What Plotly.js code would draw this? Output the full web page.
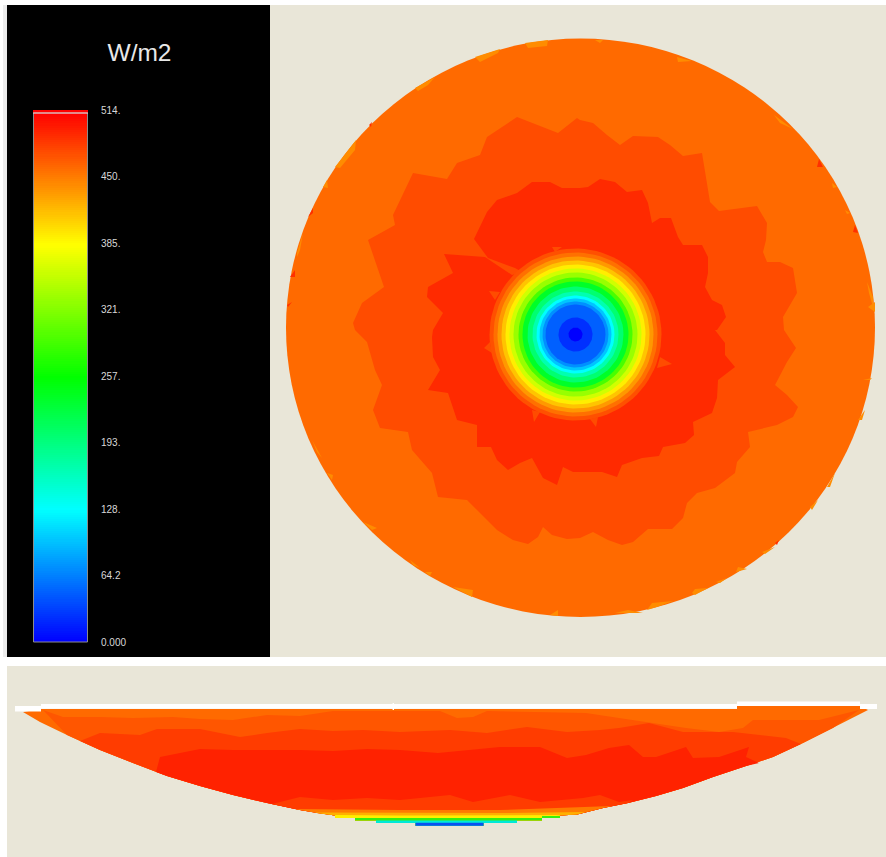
<!DOCTYPE html>
<html><head><meta charset="utf-8">
<script src="https://cdn.plot.ly/plotly-3.0.1.min.js"></script>
<style>html,body{margin:0;padding:0;background:#fff}#c{width:886px;height:857px}</style></head>
<body><div id="c"></div>
<script>
// ---- colour-bar
const unitTitle = 'W/m2';
const barTickVals = [514, 449.75, 385.5, 321.25, 257, 192.75, 128.5, 64.25, 0];
const barTickText = ['514.', '450.', '385.', '321.', '257.', '193.', '128.', '64.2', '0.000'];
const rainbow = [[0,'#0000ff'],[0.25,'#00ffff'],[0.5,'#00ff00'],[0.75,'#ffff00'],[1,'#ff0000']];
// ---- plan view zones (x,y in picture units)
const midX = [580,593,607,620,633,658,670,683,702,705,710,719,757,767,766,763,767,780,793,797,783,784,796,787,775,787,798,793,777,748,750,737,735,715,697,687,683,672,648,633,622,608,593,580,567,552,543,538,528,513,497,467,438,432,412,408,380,373,382,375,367,355,353,362,384,368,395,393,413,447,457,480,487,517,558,577];
const midY = [120,123,135,145,136,137,145,156,153,170,202,211,206,223,240,252,262,262,268,293,317,330,348,362,385,395,407,417,425,432,447,462,473,488,493,503,518,529,529,542,545,540,532,538,539,535,527,537,544,540,530,500,497,473,450,432,428,410,385,370,342,330,323,303,287,240,225,215,173,179,163,155,137,117,133,118];
const innerX = [580,588,600,615,627,642,648,652,660,671,678,683,702,708,708,705,712,722,726,717,715,725,725,735,718,717,712,693,694,685,663,659,642,622,617,602,580,573,563,557,543,532,520,508,497,491,477,477,457,448,428,440,433,432,433,443,427,428,453,444,485,512,522,515,488,474,487,497,517,532,550,562];
const innerY = [188,187,179,182,192,190,203,223,218,218,237,245,245,257,273,287,300,305,317,330,330,343,355,367,380,398,413,422,435,443,447,456,458,465,477,472,472,472,467,485,478,458,463,470,460,447,447,425,420,393,390,370,357,337,330,313,297,287,273,254,257,275,272,268,258,239,212,200,193,182,182,188];
const spikeX = [489,500,495,null,484,490,492,null,532,540,534,null,590,598,596,null,672,660,657,null,552,562,555];
const spikeY = [291,292,300,null,348,342,353,null,410,412,422,null,419,417,427,null,364,357,368,null,247,247,252];
const paleX = [525,548,547,528,null,475,500,498,480,null,415,435,428,418,null,335,356,355,340,null,297,303,300,297,null,323,327,328,null,677,692,678,null,774,793,780,null,832,837,833,null,845,850,847,null,867,873,873,869,null,868,875,875,null,595,603,600,null,312,322,317,null,327,333,332,null,363,377,372,null,410,420,413,null,425,432,430,null,453,473,472,null,550,558,558,null,615,628,643,null,647,652,673,657,null,692,695,708,695,null,716,727,720,null,736,738,747,null,762,775,765,null,810,818,812,null,827,835,830,null,858,865,862,null,863,872,870];
const paleY = [43,40,46,48,null,57,49,53,62,null,88,77,85,91,null,167,140,150,168,null,253,233,250,257,null,187,180,188,null,57,61,62,null,115,129,123,null,183,187,188,null,210,213,214,null,282,297,307,293,null,307,302,312,null,40,40,43,null,440,458,452,null,473,475,480,null,522,528,530,null,560,568,565,null,572,572,576,null,587,590,597,null,615,610,616,null,613,610,613,null,610,603,601,607,null,593,589,588,595,null,582,578,583,null,572,567,569,null,552,547,554,null,507,500,510,null,487,473,487,null,420,410,420,null,380,378,380];
const redX = [308,313,313,null,290,295,295,null,287,292,288,null,817,819,823,null,853,855,858,null,775,779,777,null,369,372,371];
const redY = [217,208,213,null,277,270,277,null,305,302,307,null,167,159,167,null,232,225,233,null,543,540,545,null,125,122,127];
// ---- central rings: outer radius and colour, outermost first
const ringRadii = [86,82,78,74,70,66,62,57,53,48,43,39,36,33,30,17,7];
const ringColors = ['#ff5000','#ff7000','#ff9800','#ffc400','#ffee00','#d0ff00','#98ff00','#48ff00','#00ff28','#00ff70','#00ffb0','#00ffff','#00c4ff','#0090ff','#0060ff','#0030ff','#0000ff'];
// ---- section view
const lensEdgeX = [23,40,67,100,133,167,200,233,267,300,317,335,335,355,355,376,376,415.5,415.5,483.5,483.5,517,517,542,542,560,560,577,603,628,656,683,713,746,773,803,833,868];
const lensEdgeY = [712,722,735,750,763,776,786,795,803,810,813,815.5,818,818,820.5,820.5,823,823,825.7,825.7,823,823,820.5,820.5,818,818,815.5,814.5,808,803,796,788,777,766,757,743,728,710];
const bandColors = ['#ff5600','#ff3c00','#ff2200','#ff3c00','#ff7a00','#ffb000','#ffee00','#38ee10','#00e8d8','#0a50f0'];
const bandTopX = [
 [43,63,100,133,173,200,233,267,300,333,400,440,457,473,487,586,619,653,686,719,743,753,819,859],
 [80,100,140,157,200,240,267,300,333,363,400,450,487,527,567,600,619,649,683,733,786,801],
 [156,160,200,233,300,333,367,400,438,467,500,540,567,586,609,629,643,656,686,693,719,749,746,759],
 [272,300,333,367,400,450,473,510,540,583,600,619,633],
 [295,400,500,600,612],
 [315,400,500,585],
 [335,335,400,500,560,560],
 [355,355,542,542,560,560],
 [376,376,517,517],
 [415.5,415.5,483.5,483.5]];
const bandTopY = [
 [710,717,717,718,717,719,720,715,716,711,711,711,718,717,711,713,718,723,728,732,728,720,720,710],
 [741,733,735,729,729,737,733,729,731,730,732,730,733,727,732,730,728,723,732,732,738,744],
 [772,757,749,750,750,751,749,750,753,750,747,747,758,755,748,745,757,757,747,758,757,747,757,763],
 [804,797,800,798,800,795,802,795,802,798,795,802,800],
 [809,810,810,806,806],
 [812.5,813,813,812],
 [818,815,815.5,815.5,815,815.5],
 [820.5,818,818,816,816,818],
 [823,820.5,820.5,823],
 [825.7,822.8,822.8,825.7]];
// ---- helpers
const lensTopX = [41,737,737,860];
const lensTopY = [709,709,706,706];
function under(bx, by) {
  const x0 = bx[0], x1 = bx[bx.length-1];
  const ex = [], ey = [];
  for (let i = lensEdgeX.length-1; i >= 0; i--) {
    if (lensEdgeX[i] < x1 && lensEdgeX[i] > x0) { ex.push(lensEdgeX[i]); ey.push(lensEdgeY[i]); }
  }
  return {x: bx.concat(ex), y: by.concat(ey)};
}
function poly(x, y, color) {
  return {type:'scatter', mode:'lines', x:x, y:y, fill:'toself', fillcolor:color,
          line:{width:0, color:color}, hoverinfo:'skip', showlegend:false};
}
const ringCx = 575.5, ringCy = 334.5;
function ring(r, color) {
  const x = [], y = [];
  for (let a = 0; a <= 360; a += 4) {
    x.push(ringCx + r*Math.cos(a*Math.PI/180));
    y.push(ringCy + r*Math.sin(a*Math.PI/180));
  }
  return poly(x, y, color);
}
const traces = [];
traces.push(poly(paleX, paleY, '#ff8c00'));
traces.push(poly(redX, redY, '#ff3000'));
traces.push(poly(midX, midY, '#ff4c00'));
traces.push(poly(innerX, innerY, '#ff2a00'));
traces.push(poly(spikeX, spikeY, '#ff4c00'));
ringRadii.forEach((r,i) => traces.push(ring(r, ringColors[i])));
traces.push(poly(lensTopX.concat(lensEdgeX.slice().reverse()), lensTopY.concat(lensEdgeY.slice().reverse()), '#ff6a00'));
bandColors.forEach((c,i) => { const p = under(bandTopX[i], bandTopY[i]); traces.push(poly(p.x, p.y, c)); });
// colour-bar ramp
const rampV = []; for (let v = 0; v <= 514; v += 2) rampV.push(v);
traces.push({type:'heatmap', xaxis:'x2', yaxis:'y2', x:[0,1], y:rampV, z:rampV.map(v=>[v,v]),
  colorscale:rainbow, zmin:0, zmax:511, showscale:false, hoverinfo:'skip'});

const rect = (x0,y0,x1,y1,fill,layer) => ({type:'rect',xref:'x',yref:'y',x0,y0,x1,y1,fillcolor:fill,line:{width:0},layer:layer||'below'});
const shapes = [
  rect(3,5,7,657,'#ececec'),
  rect(7,5,270,657,'#000000'),
  rect(270,5,886,657,'#e9e6d8'),
  rect(7,666,886,857,'#e9e6d8'),
  {type:'circle',xref:'x',yref:'y',x0:286,x1:875,y0:38.5,y1:617,fillcolor:'#ff6a00',line:{width:0},layer:'below'},
  rect(15,706,41,711.5,'#ffffff','above'),
  rect(41,704,737,708.7,'#ffffff','above'),
  rect(737,701.5,860,706,'#ffffff','above'),
  rect(860,704,877,709,'#ffffff','above'),
  rect(392.6,703,394,710,'#ffffff','above'),
  {type:'rect',xref:'x',yref:'y',x0:33.5,x1:87.5,y0:113,y1:642,line:{width:1,color:'#8c8c8c'},layer:'above'},
  {type:'line',xref:'x',yref:'y',x0:33,x1:88,y0:113,y1:113,line:{width:1.2,color:'#ffd0d0'},layer:'above'}
];
const W = 886, H = 857;
const layout = {
  width:W, height:H, margin:{l:0,r:0,t:0,b:0}, paper_bgcolor:'#ffffff', plot_bgcolor:'rgba(0,0,0,0)', showlegend:false,
  title:{text:unitTitle, x:139.5/W, xanchor:'center', xref:'paper', y:1-52/H, yanchor:'middle', yref:'container', font:{family:'Liberation Sans, Arial, sans-serif', size:24.5, color:'#e8e8e8'}},
  xaxis:{domain:[0,1], range:[0,W], visible:false, fixedrange:true},
  yaxis:{domain:[0,1], range:[H,0], visible:false, fixedrange:true},
  xaxis2:{domain:[33/W,88/W], range:[0,1], visible:false, anchor:'y2', fixedrange:true},
  yaxis2:{domain:[(H-642)/H,(H-110)/H], range:[0,514], anchor:'x2', side:'right', showgrid:false, zeroline:false, showline:false,
    tickmode:'array', tickvals:barTickVals, ticktext:barTickText, ticks:'outside', ticklen:10, tickwidth:0, tickcolor:'rgba(0,0,0,0)',
    tickfont:{family:'Liberation Sans, Arial, sans-serif', size:10, color:'#d8d8d8'}, fixedrange:true},
  shapes:shapes
};
Plotly.newPlot('c', traces, layout, {displayModeBar:false, staticPlot:true});
</script></body></html>
